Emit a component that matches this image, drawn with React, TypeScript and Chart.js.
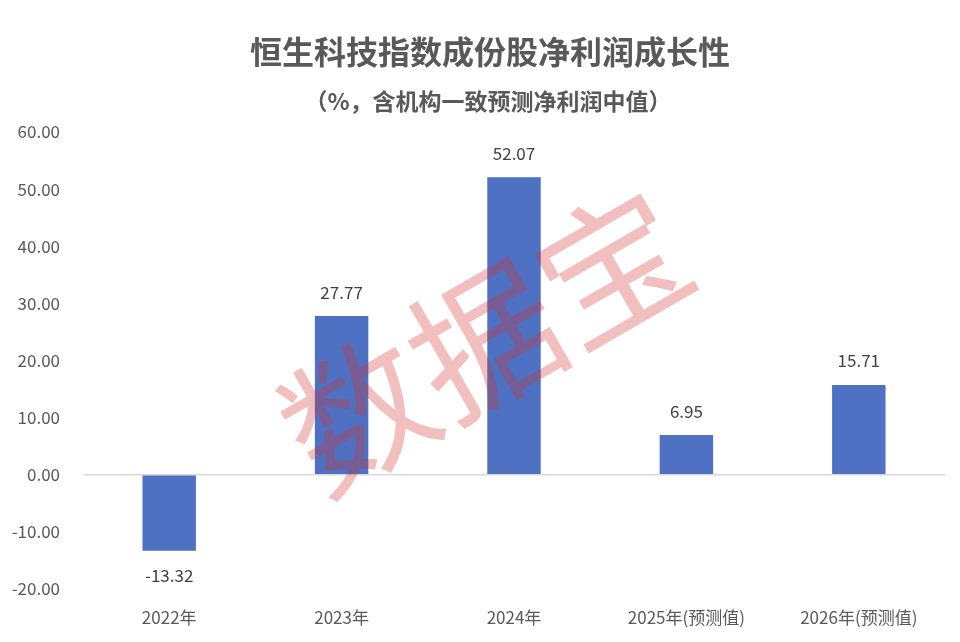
import React, { useEffect, useRef } from "react";
import { Chart, registerables } from "chart.js";

Chart.register(...registerables);

const titleText = "恒生科技指数成份股净利润成长性";
const subtitleText = "（%，含机构一致预测净利润中值）";
const categories = ["2022年", "2023年", "2024年", "2025年(预测值)", "2026年(预测值)"];
const growth = [-13.32, 27.77, 52.07, 6.95, 15.71];
const yMin = -20;
const yMax = 60;
const yStep = 10;
const watermarkText = "数据宝";

const FONT = '"Noto Sans CJK SC", "Noto Sans", sans-serif';

const headerPlugin = {
  id: "header",
  beforeDraw(chart: any) {
    const ctx = chart.ctx;
    ctx.save();
    ctx.fillStyle = "#595959";
    ctx.textAlign = "center";
    ctx.textBaseline = "middle";
    ctx.font = `bold 32px ${FONT}`;
    ctx.fillText(titleText, 490, 52);
    ctx.font = `bold 23px ${FONT}`;
    ctx.fillText(subtitleText, 488, 101);
    ctx.restore();
  },
};

const labelPlugin = {
  id: "valueLabels",
  afterDatasetsDraw(chart: any) {
    const ctx = chart.ctx;
    const meta = chart.getDatasetMeta(0);
    ctx.save();
    ctx.fillStyle = "#404040";
    ctx.font = `17px ${FONT}`;
    ctx.textAlign = "center";
    ctx.textBaseline = "middle";
    meta.data.forEach((bar: any, i: number) => {
      const v = growth[i];
      const y = v >= 0 ? bar.y - 24 : bar.y + 25;
      ctx.fillText(v.toFixed(2), bar.x, y);
    });
    ctx.restore();
  },
};

const watermarkPlugin = {
  id: "watermark",
  afterDraw(chart: any) {
    const ctx = chart.ctx;
    ctx.save();
    ctx.translate(485, 340);
    ctx.rotate((-30 * Math.PI) / 180);
    ctx.fillStyle = "rgba(213, 50, 50, 0.31)";
    ctx.font = `147px ${FONT}`;
    ctx.textAlign = "center";
    ctx.textBaseline = "middle";
    ctx.fillText(watermarkText, 0, 0);
    ctx.restore();
  },
};

export default function App() {
  const ref = useRef<HTMLCanvasElement | null>(null);
  useEffect(() => {
    document.body.style.margin = "0";
    const canvas = ref.current;
    if (!canvas) return;
    const chart = new Chart(canvas, {
      type: "bar",
      data: {
        labels: categories,
        datasets: [
          {
            data: growth,
            backgroundColor: "#4F71C3",
            barPercentage: 0.31,
            categoryPercentage: 1,
          },
        ],
      },
      options: {
        animation: false,
        responsive: false,
        devicePixelRatio: 1,
        layout: { padding: { left: 0, right: 15, top: 132, bottom: 0 } },
        plugins: {
          legend: { display: false },
          tooltip: { enabled: false },
          title: { display: false },
        },
        scales: {
          x: {
            grid: { display: false, drawTicks: false },
            border: { display: false },
            ticks: {
              color: "#595959",
              font: { size: 17, family: FONT },
              padding: 18,
              maxRotation: 0,
              autoSkip: false,
            },
            afterFit: (s: any) => {
              s.height = 53;
            },
          },
          y: {
            min: yMin,
            max: yMax,
            grid: {
              drawTicks: false,
              color: (c: any) => (c.tick && c.tick.value === 0 ? "#D9D9D9" : "rgba(0,0,0,0)"),
              lineWidth: 1.5,
            },
            border: { display: false },
            ticks: {
              stepSize: yStep,
              color: "#595959",
              font: { size: 17, family: FONT },
              padding: 23,
              callback: (v: any) => Number(v).toFixed(2),
            },
            afterFit: (s: any) => {
              s.width = 83;
            },
          },
        },
      },
      plugins: [headerPlugin, labelPlugin, watermarkPlugin],
    });
    return () => chart.destroy();
  }, []);
  return (
    <div style={{ width: 960, height: 642, background: "#fff" }}>
      <canvas ref={ref} width={960} height={642} style={{ display: "block" }} />
    </div>
  );
}
